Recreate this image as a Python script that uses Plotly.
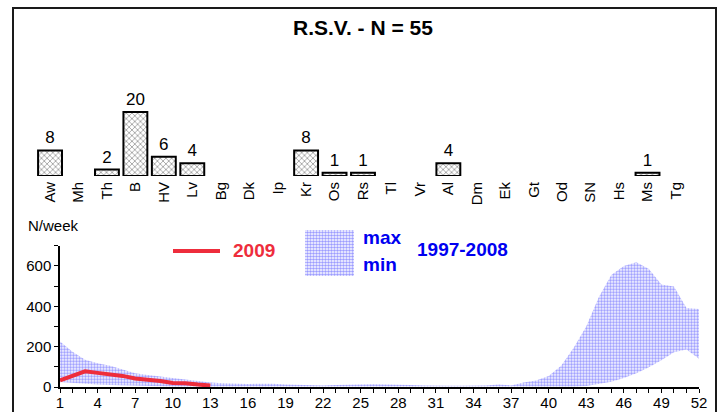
import plotly.graph_objects as go

# ---------------- data ----------------
regions = ["Aw", "Mh", "Th", "B", "HV", "Lv", "Bg", "Dk", "Ip", "Kr", "Os", "Rs",
           "Tl", "Vr", "Al", "Dm", "Ek", "Gt", "Od", "SN", "Hs", "Ms", "Tg"]
region_counts = [8, 0, 2, 20, 6, 4, 0, 0, 0, 8, 1, 1,
                 0, 0, 4, 0, 0, 0, 0, 0, 0, 1, 0]

weeks = list(range(1, 53))
max_1997_2008 = [225, 175, 135, 118, 105, 86, 68, 60, 52, 44, 36, 28, 22,
                 18, 15, 15, 16, 16, 12, 10, 8, 8, 10, 12, 15, 14,
                 12, 12, 10, 8, 6, 6, 6, 6, 8, 12, 8, 22, 32,
                 55, 105, 195, 300, 445, 555, 600, 618, 585, 508, 498, 392, 387]
min_1997_2008 = [25, 20, 15, 12, 10, 8, 6, 5, 4, 3, 2, 2, 1,
                 1, 1, 1, 1, 1, 0, 0, 0, 0, 0, 0, 0, 0,
                 0, 0, 0, 0, 0, 0, 0, 0, 0, 0, 0, 0, 0,
                 0, 1, 2, 5, 14, 26, 44, 68, 98, 132, 172, 186, 140]

weeks_2009 = list(range(1, 14))
cases_2009 = [33, 58, 78, 70, 63, 55, 42, 38, 30, 20, 19, 12, 7]

x_tick_vals = list(range(1, 53, 3))
x_tick_text = [str(v) for v in x_tick_vals]
y_tick_vals = [0, 200, 400, 600]
y_tick_text = ["0", "200", "400", "600"]

title_text = "R.S.V. - N = 55"

# ---------------- layout helpers ----------------
W, H = 719, 412
FONT = "Liberation Sans, Arial, sans-serif"
RED = "#ee2d3c"
BLUE = "#0000f0"
DOT_FG = "#3a3aff"
DOTS = dict(shape=".", fgcolor=DOT_FG, bgcolor="rgba(255,255,255,0)",
            size=3, solidity=0.55)


def px(x):
    return x / W


def py(y):
    return 1 - y / H


fig = go.Figure()

# --- regional bar chart (zero counts drawn as no bar) ---
fig.add_trace(go.Bar(
    x=regions, y=[v if v else None for v in region_counts],
    xaxis="x2", yaxis="y2",
    width=0.84,
    marker=dict(color="white",
                line=dict(color="black", width=2),
                pattern=dict(shape="x", fgcolor="black", bgcolor="white",
                             size=4, solidity=0.3)),
    text=[str(v) if v else "" for v in region_counts],
    textposition="outside",
    textfont=dict(size=17, color="black", family=FONT),
    cliponaxis=False,
    hoverinfo="skip",
))

# --- min/max band ---
fig.add_trace(go.Scatter(
    x=weeks, y=min_1997_2008, mode="lines",
    line=dict(width=0, color="rgba(0,0,0,0)"),
    hoverinfo="skip",
))
fig.add_trace(go.Scatter(
    x=weeks, y=max_1997_2008, mode="lines",
    line=dict(width=0, color="rgba(0,0,0,0)"),
    fill="tonexty",
    fillcolor="rgba(255,255,255,0)",
    fillpattern=DOTS,
    hoverinfo="skip",
))

# --- 2009 line ---
fig.add_trace(go.Scatter(
    x=weeks_2009, y=cases_2009, mode="lines",
    line=dict(color=RED, width=4),
    hoverinfo="skip",
))

# --- legend swatch (pixel overlay axes covering the whole figure) ---
fig.add_trace(go.Scatter(
    x=[305, 354, 354, 305, 305], y=[230, 230, 276, 276, 230],
    xaxis="x3", yaxis="y3",
    mode="lines", line=dict(width=0, color="rgba(0,0,0,0)"),
    fill="toself", fillcolor="rgba(255,255,255,0)",
    fillpattern=DOTS,
    hoverinfo="skip",
))

fig.update_layout(
    width=W, height=H,
    margin=dict(l=0, r=0, t=0, b=0, autoexpand=False),
    paper_bgcolor="white", plot_bgcolor="rgba(0,0,0,0)",
    showlegend=False,
    font=dict(family=FONT, color="black", size=15),
    xaxis=dict(
        domain=[px(60), px(699)], range=[1, 52],
        tickmode="array", tickvals=x_tick_vals, ticktext=x_tick_text,
        ticks="outside", ticklen=4, tickwidth=1.3, tickcolor="black",
        minor=dict(tickmode="linear", tick0=1, dtick=1, ticks="outside",
                   ticklen=4, tickwidth=1.3, tickcolor="black"),
        showline=True, linecolor="black", linewidth=1.5,
        showgrid=False, zeroline=False,
        tickfont=dict(size=15), anchor="y",
        ticklabelstandoff=-3,
    ),
    yaxis=dict(
        domain=[py(387), py(245.8)], range=[0, 700],
        tickmode="array", tickvals=y_tick_vals, ticktext=y_tick_text,
        ticks="outside", ticklen=4, tickwidth=1.3, tickcolor="black",
        minor=dict(tickmode="linear", tick0=0, dtick=100, ticks="outside",
                   ticklen=4, tickwidth=1.3, tickcolor="black"),
        showline=True, linecolor="black", linewidth=1.5,
        showgrid=False, zeroline=False,
        tickfont=dict(size=15), anchor="x",
    ),
    xaxis2=dict(
        domain=[px(35.8), px(690.2)], range=[-0.5, 22.5],
        type="category", categoryorder="array", categoryarray=regions,
        tickangle=-90, ticks="", showline=False, showgrid=False,
        zeroline=False, tickfont=dict(size=15), anchor="y2",
        ticklabelstandoff=2,
    ),
    yaxis2=dict(
        domain=[py(176), py(96)], range=[0, 25],
        visible=False, anchor="x2",
    ),
    xaxis3=dict(domain=[0, 1], range=[0, W], visible=False, anchor="y3"),
    yaxis3=dict(domain=[0, 1], range=[H, 0], visible=False, anchor="x3"),
    shapes=[
        dict(type="rect", xref="paper", yref="paper",
             x0=px(13), x1=px(716), y0=py(8), y1=-0.2,
             line=dict(color="#1a1a1a", width=2), fillcolor="rgba(0,0,0,0)"),
        dict(type="line", xref="paper", yref="paper",
             x0=px(173), x1=px(220), y0=py(251), y1=py(251),
             line=dict(color=RED, width=4)),
    ],
    annotations=[
        dict(text="<b>" + title_text + "</b>", x=px(363), y=py(28),
             xref="paper", yref="paper", showarrow=False,
             xanchor="center", yanchor="middle",
             font=dict(size=21, color="black")),
        dict(text="N/week", x=px(26), y=py(225), xref="paper", yref="paper",
             showarrow=False, xanchor="left", yanchor="middle",
             font=dict(size=15, color="black")),
        dict(text="<b>2009</b>", x=px(231), y=py(251), xref="paper", yref="paper",
             showarrow=False, xanchor="left", yanchor="middle",
             font=dict(size=19, color=RED)),
        dict(text="<b>max</b>", x=px(361), y=py(237), xref="paper", yref="paper",
             showarrow=False, xanchor="left", yanchor="middle",
             font=dict(size=19, color=BLUE)),
        dict(text="<b>min</b>", x=px(361), y=py(264), xref="paper", yref="paper",
             showarrow=False, xanchor="left", yanchor="middle",
             font=dict(size=19, color=BLUE)),
        dict(text="<b>1997-2008</b>", x=px(415), y=py(250), xref="paper", yref="paper",
             showarrow=False, xanchor="left", yanchor="middle",
             font=dict(size=19, color=BLUE)),
    ],
)

fig.write_html("out.html", config={"displayModeBar": False},
               post_script="document.body.style.margin='0';")
